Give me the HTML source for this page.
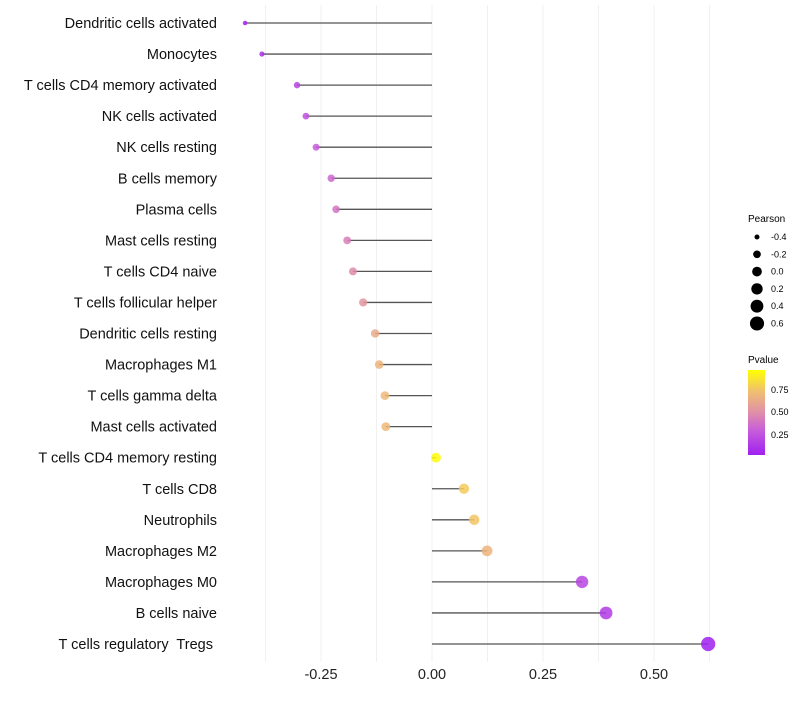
<!DOCTYPE html>
<html><head><meta charset="utf-8"><style>
body{margin:0;background:#fff;font-family:"Liberation Sans",sans-serif}
svg text{font-family:"Liberation Sans",sans-serif;white-space:pre}
</style></head><body>
<svg id="c" width="800" height="700">
<defs><linearGradient id="pg" x1="0" y1="1" x2="0" y2="0">
<stop offset="0" stop-color="#a020f0"/><stop offset="0.3" stop-color="#c860d8"/><stop offset="0.5" stop-color="#e08fa8"/><stop offset="0.75" stop-color="#f0c070"/><stop offset="1" stop-color="#ffff00"/></linearGradient></defs>
<g id="grid"></g>
<g id="marks"></g>
<g id="labels"></g>
<g id="xt"></g>
<g id="sl"><text x="748" y="222" font-size="10">Pearson</text></g>
<g><text x="748" y="363" font-size="10">Pvalue</text>
<rect x="748" y="370" width="17" height="85" fill="url(#pg)"/>
<text x="771" y="393" font-size="9">0.75</text><text x="771" y="415" font-size="9">0.50</text><text x="771" y="438" font-size="9">0.25</text></g>
</svg>
<script>
const categories=["Dendritic cells activated","Monocytes","T cells CD4 memory activated","NK cells activated","NK cells resting","B cells memory","Plasma cells","Mast cells resting","T cells CD4 naive","T cells follicular helper","Dendritic cells resting","Macrophages M1","T cells gamma delta","Mast cells activated","T cells CD4 memory resting","T cells CD8","Neutrophils","Macrophages M2","Macrophages M0","B cells naive","T cells regulatory  Tregs "];
const pearson=[-0.421,-0.383,-0.304,-0.284,-0.261,-0.227,-0.216,-0.191,-0.178,-0.155,-0.128,-0.119,-0.106,-0.104,0.009,0.072,0.095,0.124,0.338,0.392,0.622];
const pvalue=[0.05,0.1,0.2,0.25,0.3,0.35,0.4,0.45,0.5,0.55,0.65,0.7,0.72,0.72,0.98,0.8,0.78,0.7,0.2,0.15,0.03];
const xTicks=[-0.25,0,0.25,0.5];
const xTickLabels=["-0.25","0.00","0.25","0.50"];
const sizeBreaks=[-0.4,-0.2,0,0.2,0.4,0.6];
const NS="http://www.w3.org/2000/svg";
const X=v=>432+v*444;
const Y=i=>23+i*31.05;
const R=v=>Math.sqrt(4+(v+0.45)*(52-4)/1.1);
const stops=[[0,[160,32,240]],[0.3,[200,96,216]],[0.5,[224,143,168]],[0.75,[240,192,112]],[1,[255,255,0]]];
function col(p){const t=Math.max(0,Math.min(1,(p-0.03)/0.97));for(let k=1;k<stops.length;k++){if(t<=stops[k][0]){const a=stops[k-1],b=stops[k],f=(t-a[0])/(b[0]-a[0]);return "rgb("+a[1].map((c,j)=>Math.round(c+(b[1][j]-c)*f)).join(",")+")";}}return "rgb(255,255,0)";}
function mk(t,a,p){const e=document.createElementNS(NS,t);for(const k in a)e.setAttribute(k,a[k]);p.appendChild(e);return e;}
const grid=document.getElementById('grid'),marks=document.getElementById('marks'),labels=document.getElementById('labels'),xt=document.getElementById('xt'),sl=document.getElementById('sl');
for(let v=-0.375;v<=0.63;v+=0.125){const l=mk('line',{x1:X(v),x2:X(v),y1:5,y2:662,stroke:'#f0f0f0','stroke-width':1},grid);}
categories.forEach((c,i)=>{
const ln=mk('line',{x1:X(0),x2:X(pearson[i]),y1:Y(i),y2:Y(i),stroke:'#555','stroke-width':1.3},marks);

const pt=mk('circle',{cx:X(pearson[i]),cy:Y(i),r:R(pearson[i]),fill:col(pvalue[i]),'fill-opacity':0.85},marks);

const tx=mk('text',{x:217,y:Y(i)+5,'text-anchor':'end','font-size':14.5,fill:'#111'},labels);tx.textContent=c;

});
xTicks.forEach((v,i)=>{const t=mk('text',{x:X(v),y:679,'text-anchor':'middle','font-size':14.5,fill:'#222'},xt);t.textContent=xTickLabels[i];
});
sizeBreaks.forEach((v,i)=>{const y=237+i*17.3;const c=mk('circle',{cx:757,cy:y,r:R(v),fill:'#000'},sl);

const t=mk('text',{x:771,y:y+3,'font-size':9},sl);t.textContent=v.toFixed(1);
});
</script>
</body></html>
